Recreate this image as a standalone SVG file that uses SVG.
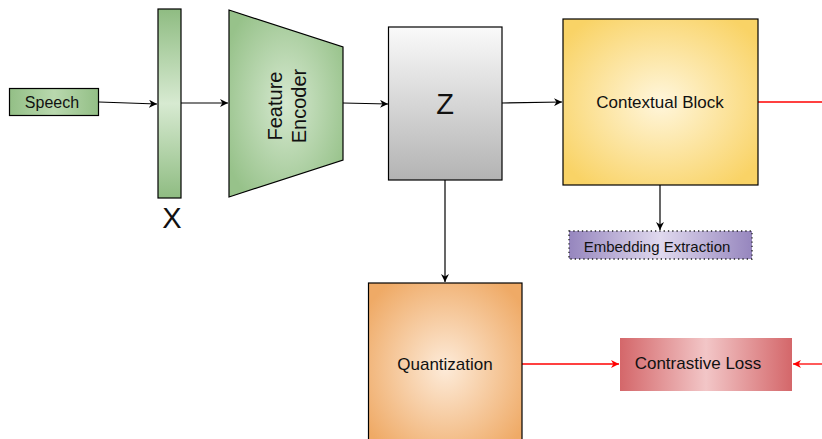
<svg xmlns="http://www.w3.org/2000/svg" width="822" height="439" viewBox="0 0 822 439">
<style>
text{font-family:"Liberation Sans",Arial,sans-serif;fill:#111;text-anchor:middle;dominant-baseline:central}
.blk{stroke:#000;stroke-width:1.2}
.line{fill:none;stroke:#000;stroke-width:1.2}
.red{fill:none;stroke:#ff0000;stroke-width:1.3}
</style>
<defs>
<marker id="ah" viewBox="0 0 10 10" refX="10" refY="5" markerWidth="8" markerHeight="8" markerUnits="userSpaceOnUse" orient="auto">
<path d="M0,0 L10,5 L0,10 L3,5 z" fill="#000"/>
</marker>
<marker id="ahr" viewBox="0 0 10 10" refX="10" refY="5" markerWidth="9" markerHeight="8" markerUnits="userSpaceOnUse" orient="auto">
<path d="M0,0 L10,5 L0,10 L3,5 z" fill="#ff0000"/>
</marker>
<linearGradient id="gGreenH" x1="0" y1="0" x2="1" y2="0">
<stop offset="0" stop-color="#93bf86"/><stop offset="0.5" stop-color="#b9d8ae"/><stop offset="1" stop-color="#93bf86"/>
</linearGradient>
<linearGradient id="gBar" x1="0" y1="0" x2="0" y2="1">
<stop offset="0" stop-color="#8fbc82"/><stop offset="0.5" stop-color="#d7ead1"/><stop offset="1" stop-color="#8fbc82"/>
</linearGradient>
<radialGradient id="gEnc" cx="0.5" cy="0.5" r="0.6">
<stop offset="0" stop-color="#d5e8cf"/><stop offset="1" stop-color="#97c28a"/>
</radialGradient>
<linearGradient id="gZ" x1="0" y1="0" x2="0" y2="1">
<stop offset="0" stop-color="#fafafa"/><stop offset="1" stop-color="#b3b3b3"/>
</linearGradient>
<radialGradient id="gCtx" cx="0.5" cy="0.5" r="0.62">
<stop offset="0" stop-color="#fff6dc"/><stop offset="1" stop-color="#f9d366"/>
</radialGradient>
<linearGradient id="gEmb" x1="0" y1="0" x2="1" y2="0">
<stop offset="0" stop-color="#9686be"/><stop offset="0.5" stop-color="#e0d9ee"/><stop offset="1" stop-color="#9686be"/>
</linearGradient>
<radialGradient id="gQ" cx="0.5" cy="0.5" r="0.62">
<stop offset="0" stop-color="#fdebd9"/><stop offset="1" stop-color="#efaa66"/>
</radialGradient>
<linearGradient id="gCL" x1="0" y1="0" x2="1" y2="0">
<stop offset="0" stop-color="#d4676a"/><stop offset="0.5" stop-color="#f2c6c7"/><stop offset="1" stop-color="#d4676a"/>
</linearGradient>
</defs>

<g id="connectors">
<path class="line" d="M99,102 L157,104" marker-end="url(#ah)"/>
<path class="line" d="M181,103 L228,103" marker-end="url(#ah)"/>
<path class="line" d="M343,103 L388,104" marker-end="url(#ah)"/>
<path class="line" d="M502,103 L562,102" marker-end="url(#ah)"/>
<path class="line" d="M660,185 L660,230" marker-end="url(#ah)"/>
<path class="line" d="M445,180 L445,282" marker-end="url(#ah)"/>
<path class="red" d="M758,102 L822,102"/>
<path class="red" d="M522,364 L619,364" marker-end="url(#ahr)"/>
<path class="red" d="M822,364 L793,364" marker-end="url(#ahr)"/>
</g>

<g id="speech">
<rect class="blk" x="9.5" y="88.5" width="89" height="27" fill="url(#gGreenH)"/>
<text x="52" y="102" font-size="16">Speech</text>
</g>

<g id="x-input">
<rect class="blk" x="158" y="9" width="23" height="189" fill="url(#gBar)"/>
<text x="172" y="218" font-size="29">X</text>
</g>

<g id="feature-encoder">
<path class="blk" d="M229,10 L343,47 L343,160 L229,197 Z" fill="url(#gEnc)"/>
<text transform="translate(287,106) rotate(-90)" font-size="20"><tspan x="0" y="-12">Feature</tspan><tspan x="0" y="12">Encoder</tspan></text>
</g>

<g id="z">
<rect class="blk" x="388.5" y="27" width="113.5" height="153" fill="url(#gZ)"/>
<text x="445" y="104" font-size="29">Z</text>
</g>

<g id="contextual-block">
<rect class="blk" x="563" y="19" width="195" height="166" fill="url(#gCtx)"/>
<text x="660" y="102" font-size="17">Contextual Block</text>
</g>

<g id="embedding-extraction">
<rect x="569" y="231" width="183" height="28" fill="url(#gEmb)" stroke="#222" stroke-width="1.3" stroke-dasharray="1.3,3"/>
<text x="657" y="246" font-size="15">Embedding Extraction</text>
</g>

<g id="quantization">
<rect class="blk" x="368.5" y="283" width="153.5" height="170" fill="url(#gQ)"/>
<text x="445" y="364" font-size="17">Quantization</text>
</g>

<g id="contrastive-loss">
<rect x="620" y="338" width="172" height="53" fill="url(#gCL)"/>
<text x="698" y="363" font-size="17">Contrastive Loss</text>
</g>
</svg>
